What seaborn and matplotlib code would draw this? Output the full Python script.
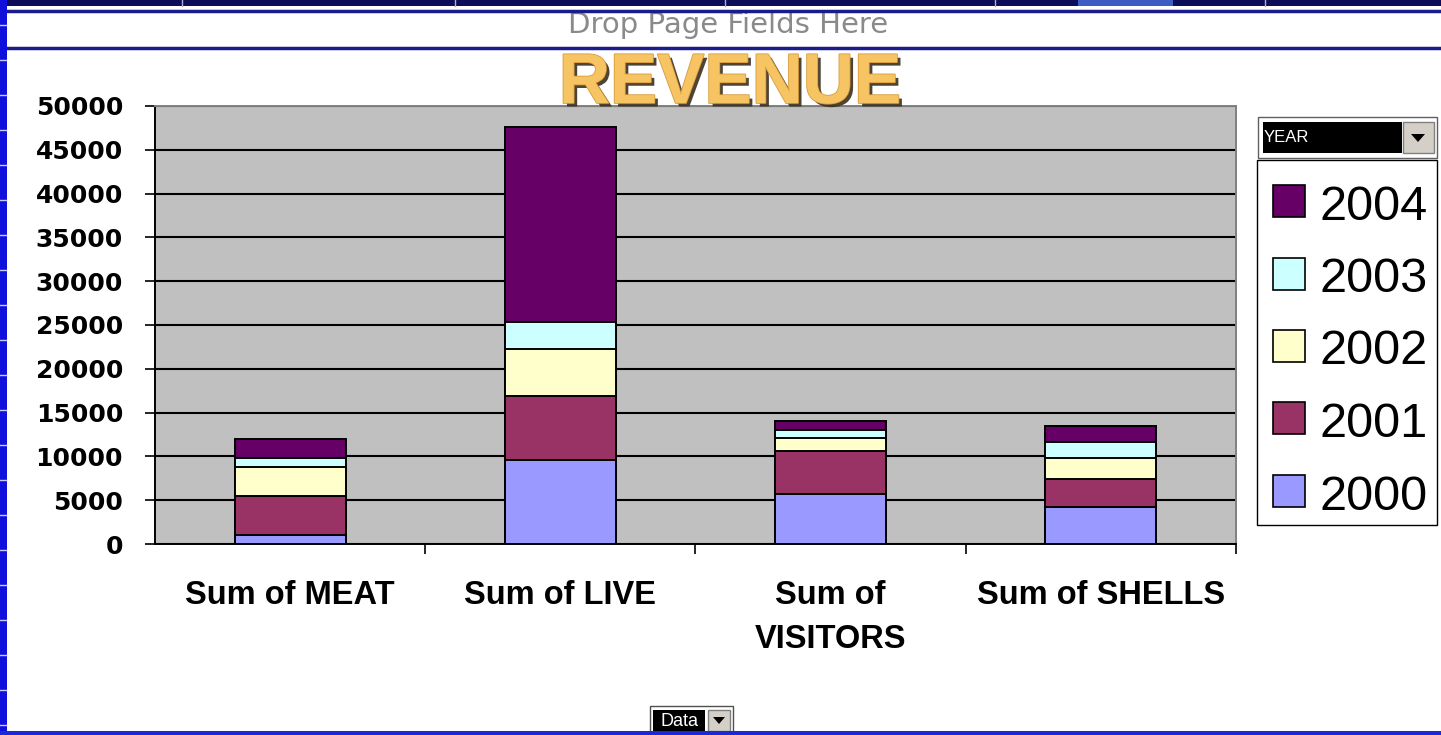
import numpy as np
import pandas as pd
import matplotlib
matplotlib.use("Agg")
import matplotlib.pyplot as plt
import matplotlib.patheffects as pe
from matplotlib.patches import Rectangle, Polygon
from matplotlib.lines import Line2D
import seaborn as sns

# ---- data -------------------------------------------------------------
categories = ["Sum of MEAT", "Sum of LIVE", "Sum of\nVISITORS", "Sum of SHELLS"]
years = ["2000", "2001", "2002", "2003", "2004"]
rev_2000 = [1030, 9590, 5670, 4260]
rev_2001 = [4480, 7300, 4950, 3200]
rev_2002 = [3310, 5370, 1520, 2330]
rev_2003 = [960, 3050, 910, 1860]
rev_2004 = [2170, 22330, 1030, 1860]
year_colors = ["#9999ff", "#993366", "#ffffcc", "#ccffff", "#660066"]
y_ticks = list(range(0, 50001, 5000))

series = [rev_2000, rev_2001, rev_2002, rev_2003, rev_2004]

W, H = 1441, 735
fig = plt.figure(figsize=(W / 100, H / 100), dpi=100, facecolor="white")


def fx(x):
    return x / W


def fy(y):
    return 1 - y / H


def box(x0, y0, x1, y1, **kw):
    r = Rectangle((fx(x0), fy(y1)), (x1 - x0) / W, (y1 - y0) / H,
                  transform=fig.transFigure, **kw)
    fig.add_artist(r)
    return r


def hline(y, x0, x1, **kw):
    fig.add_artist(Line2D([fx(x0), fx(x1)], [fy(y), fy(y)],
                          transform=fig.transFigure, **kw))


def vline(x, y0, y1, **kw):
    fig.add_artist(Line2D([fx(x), fx(x)], [fy(y0), fy(y1)],
                          transform=fig.transFigure, **kw))


# ---- window chrome around the pivot chart ------------------------------
box(0, 0, W, 6, facecolor="#0c0c58", edgecolor="none", zorder=5)
box(1078, 0, 1173, 6, facecolor="#3d5cc4", edgecolor="none", zorder=6)
for sx in [182, 455, 725, 995, 1265]:
    vline(sx, 0, 6, color="#b0b0c8", lw=1, zorder=7)
hline(10.5, 7, W, color="#1c1c88", lw=2.5, zorder=5)
hline(47.5, 7, W, color="#1c1c88", lw=2.5, zorder=5)
box(0, 0, 7, H, facecolor="#1010dc", edgecolor="none", zorder=5)
for ty in range(25, H, 35):
    hline(ty, 0, 6, color="#c8c8ff", lw=1, zorder=6)

fig.text(fx(728), fy(25), "Drop Page Fields Here", ha="center", va="center",
         fontsize=21, color="#8a8a8a", family="DejaVu Sans")

# ---- plot area ---------------------------------------------------------
ax = fig.add_axes([fx(155), fy(544), (1236 - 155) / W, (544 - 106) / H])
ax.set_facecolor("#c0c0c0")

df = pd.DataFrame({"category": categories})
cum = np.zeros(len(categories))
cum_layers = []
for vals in series:
    cum = cum + np.array(vals)
    cum_layers.append(cum.copy())

# draw the tallest cumulative layer first so each lower year sits on top
for i in range(len(years) - 1, -1, -1):
    layer = df.assign(total=cum_layers[i])
    sns.barplot(data=layer, x="category", y="total", order=categories,
                color=year_colors[i], saturation=1, width=0.41,
                edgecolor="black", linewidth=1.4, errorbar=None, ax=ax)

ax.set_ylim(0, 50000)
ax.set_xlim(-0.5, 3.5)
ax.set_yticks(y_ticks)
ax.set_yticklabels([str(t) for t in y_ticks], family="DejaVu Sans",
                   fontweight="bold", fontsize=18)
ax.yaxis.grid(True, color="black", lw=1.5)
ax.set_axisbelow(True)
ax.tick_params(axis="y", direction="out", length=7, width=1.2, pad=16,
               colors="black")
ax.set_xticks(range(len(categories)))
ax.set_xticklabels(categories, family="Liberation Sans", fontweight="bold",
                   fontsize=23.5, linespacing=1.55)
ax.set_xticks([0.5, 1.5, 2.5, 3.5], minor=True)
ax.tick_params(axis="x", which="major", length=0, pad=26)
ax.tick_params(axis="x", which="minor", length=7, width=1.2, direction="out")
ax.set_xlabel("")
ax.set_ylabel("")
for side in ["left", "bottom"]:
    ax.spines[side].set_color("black")
    ax.spines[side].set_linewidth(1.4)
for side in ["top", "right"]:
    ax.spines[side].set_color("#808080")
    ax.spines[side].set_linewidth(1.4)

# ---- title -------------------------------------------------------------
fig.text(fx(730), fy(103), "REVENUE", ha="center", va="baseline",
         fontsize=51, fontweight="bold", family="Liberation Sans",
         color="#f7c463", zorder=10,
         path_effects=[pe.SimplePatchShadow(offset=(2.5, -2.5),
                                            shadow_rgbFace="#3a3020",
                                            alpha=0.9),
                       pe.Stroke(linewidth=1.2, foreground="#d99a3a"),
                       pe.Normal()])

# ---- legend with field drop-down ----------------------------------------
box(1258, 117, 1437, 158, facecolor="white", edgecolor="#606060", lw=1, zorder=8)
box(1263, 122, 1402, 153, facecolor="black", edgecolor="none", zorder=9)
box(1403, 122, 1434, 153, facecolor="#d4d0c8", edgecolor="#808080", lw=1, zorder=9)
fig.add_artist(Polygon([[fx(1411), fy(134)], [fx(1425), fy(134)], [fx(1418), fy(142)]],
                       closed=True, transform=fig.transFigure,
                       facecolor="black", edgecolor="none", zorder=10))
fig.text(fx(1264), fy(138), "YEAR", ha="left", va="center", fontsize=12,
         color="white", family="Liberation Sans", zorder=10)

box(1257, 160, 1437, 525, facecolor="white", edgecolor="black", lw=1, zorder=8)
legend_order = [4, 3, 2, 1, 0]
for k, i in enumerate(legend_order):
    cy = 201 + k * 72.5
    box(1273, cy - 16, 1305, cy + 16, facecolor=year_colors[i],
        edgecolor="black", lw=1.2, zorder=9)
    fig.text(fx(1319), fy(cy + 18.5), years[i], ha="left", va="baseline",
             fontsize=35, family="Liberation Sans", color="black", zorder=9)

# ---- data field drop-down ------------------------------------------------
box(650, 706, 733, 735, facecolor="white", edgecolor="#505050", lw=1, zorder=8)
box(653, 710, 705, 731, facecolor="black", edgecolor="none", zorder=9)
box(708, 710, 730, 731, facecolor="#d4d0c8", edgecolor="#808080", lw=1, zorder=9)
fig.add_artist(Polygon([[fx(713), fy(717)], [fx(725), fy(717)], [fx(719), fy(724)]],
                       closed=True, transform=fig.transFigure,
                       facecolor="black", edgecolor="none", zorder=10))
fig.text(fx(679), fy(721), "Data", ha="center", va="center", fontsize=13,
         color="white", family="Liberation Sans", zorder=10)
box(0, 731, W, H, facecolor="#1a2ad8", edgecolor="none", zorder=11)

fig.savefig("out.png", dpi=100, facecolor="white")
